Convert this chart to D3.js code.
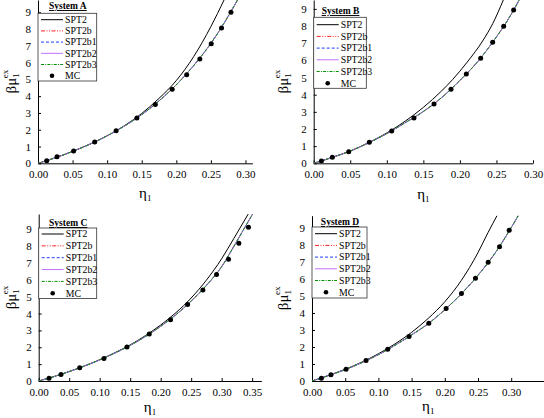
<!DOCTYPE html>
<html><head><meta charset="utf-8">
<script src="https://cdn.jsdelivr.net/npm/d3@7"></script>
<style>
html,body{margin:0;padding:0;background:#fff;}
svg{display:block;font-family:"Liberation Serif","Times New Roman",serif;}
</style></head>
<body>
<svg id="chart" width="544" height="418"></svg>
<script>
// ---------- data ----------
const seriesNames = ["SPT2","SPT2b","SPT2b1","SPT2b2","SPT2b3","MC"];
const systemNames = ["System A","System B","System C","System D"];
const xTickValues = [0,0.05,0.10,0.15,0.20,0.25,0.30,0.35];
const yTickValues = [0,1,2,3,4,5,6,7,8,9];

// System A
const mcA_x = [0.0126,0.0275,0.0515,0.082,0.113,0.143,0.1696,0.194,0.215,0.234,0.2505,0.2654,0.279];
const mcA_y = [0.15,0.39,0.73,1.27,1.94,2.70,3.51,4.41,5.28,6.22,7.13,8.06,9.0];
const spt2A_x = [0,0.025,0.05,0.075,0.1,0.125,0.15,0.175,0.2,0.225,0.25,0.269];
const spt2A_y = [0,0.33,0.71,1.14,1.64,2.24,2.97,3.87,4.93,6.35,8.15,9.73];
const spt2bA_x = [0,0.025,0.05,0.075,0.1,0.125,0.15,0.175,0.2,0.225,0.25,0.265,0.28,0.2895];
const spt2bA_y = [0,0.33,0.71,1.14,1.64,2.22,2.90,3.72,4.68,5.82,7.15,8.08,9.12,9.8];

// System B
const mcB_x = [0.0105,0.0255,0.0479,0.0761,0.1067,0.1372,0.1646,0.1878,0.2088,0.2284,0.2448,0.2599,0.2735];
const mcB_y = [0.14,0.35,0.68,1.22,1.89,2.64,3.46,4.32,5.21,6.12,7.06,7.99,8.94];
const spt2B_x = [0,0.025,0.05,0.075,0.1,0.125,0.15,0.175,0.19,0.21,0.232,0.245,0.2594];
const spt2B_y = [0,0.34,0.72,1.20,1.77,2.45,3.26,4.22,4.88,5.90,7.19,8.15,9.52];
const spt2bB_x = [0,0.025,0.05,0.075,0.1,0.125,0.15,0.175,0.2,0.225,0.25,0.265,0.2815];
const spt2bB_y = [0,0.34,0.71,1.19,1.73,2.36,3.02,3.83,4.83,5.96,7.37,8.32,9.55];

// System C
const mcC_x = [0.0169,0.0366,0.0672,0.107,0.1447,0.1813,0.2162,0.2441,0.2692,0.2916,0.3112,0.3282,0.344];
const mcC_y = [0.16,0.39,0.79,1.34,2.01,2.78,3.63,4.54,5.39,6.32,7.22,8.17,9.12];
const spt2C_x = [0,0.025,0.05,0.075,0.1,0.125,0.15,0.175,0.2,0.225,0.25,0.275,0.3,0.32,0.3436];
const spt2C_y = [0,0.26,0.56,0.89,1.26,1.68,2.14,2.69,3.32,4.05,4.92,5.98,7.25,8.45,9.9];
const spt2bC_x = [0,0.025,0.05,0.075,0.1,0.125,0.15,0.175,0.2,0.225,0.25,0.275,0.3,0.32,0.335,0.3508];
const spt2bC_y = [0,0.26,0.56,0.89,1.25,1.66,2.11,2.64,3.24,3.93,4.74,5.67,6.78,7.98,8.92,9.9];

// System D
const mcD_x = [0.0141,0.0286,0.0513,0.0814,0.114,0.1462,0.1759,0.202,0.2251,0.2462,0.2653,0.2824,0.297];
const mcD_y = [0.16,0.37,0.69,1.20,1.86,2.61,3.39,4.27,5.14,6.04,6.98,7.90,8.86];
const spt2D_x = [0,0.025,0.05,0.075,0.1,0.125,0.15,0.175,0.2,0.225,0.25,0.265,0.279];
const spt2D_y = [0,0.33,0.69,1.11,1.60,2.18,2.86,3.68,4.66,5.92,7.55,8.72,9.75];
const spt2bD_x = [0,0.025,0.05,0.075,0.1,0.125,0.15,0.175,0.2,0.225,0.25,0.275,0.3,0.311];
const spt2bD_y = [0,0.32,0.67,1.08,1.55,2.10,2.71,3.37,4.19,5.13,6.22,7.48,9.02,9.75];

const xMax = [0.31,0.30,0.365,0.35];
const yMax = [9.73,9.52,9.9,9.72];

// ---------- layout / styles ----------
const zip = (xs,ys)=>xs.map((x,i)=>[x,ys[i]]);
const panels = [
  {mc:zip(mcA_x,mcA_y), s2:zip(spt2A_x,spt2A_y), s2b:zip(spt2bA_x,spt2bA_y),
   left:38, right:252.4, top:0, bottom:163.3, ylabX:16, xlabY:198,
   lg:{top:13.3,bottom:81,right:96.7,row0:19.7,step:11.2,titleY:9}},
  {mc:zip(mcB_x,mcB_y), s2:zip(spt2B_x,spt2B_y), s2b:zip(spt2bB_x,spt2bB_y),
   left:313.7, right:533, top:0, bottom:163.3, ylabX:288, xlabY:199,
   lg:{top:17.3,bottom:88.3,right:366.3,row0:24.7,step:11.7,titleY:14}},
  {mc:zip(mcC_x,mcC_y), s2:zip(spt2C_x,spt2C_y), s2b:zip(spt2bC_x,spt2bC_y),
   left:38.7, right:261.3, top:214, bottom:381, ylabX:16, xlabY:412,
   lg:{top:228,bottom:298.5,right:96.7,row0:234,step:11.85,titleY:226}},
  {mc:zip(mcD_x,mcD_y), s2:zip(spt2D_x,spt2D_y), s2b:zip(spt2bD_x,spt2bD_y),
   left:312, right:544.4, top:215.7, bottom:381, ylabX:288, xlabY:411,
   lg:{top:227,bottom:298,right:367,row0:233.7,step:11.7,titleY:225}}
];

const styles = [
  {name:seriesNames[0], color:"#000000", dash:null, w:1},
  {name:seriesNames[1], color:"#ff2020", dash:"4,1.5,1,1.5,1,1.5", w:1},
  {name:seriesNames[2], color:"#1f3fff", dash:"3,2", w:1},
  {name:seriesNames[3], color:"#c070ff", dash:null, w:1},
  {name:seriesNames[4], color:"#009000", dash:"3,1.2,1,1.2", w:1}
];

const svg = d3.select("#chart");

panels.forEach((p,pi)=>{
  const x = d3.scaleLinear().domain([0,xMax[pi]]).range([p.left,p.right]);
  const y = d3.scaleLinear().domain([0,yMax[pi]]).range([p.bottom,p.top]);
  const g = svg.append("g");

  const clipId = "clip"+pi;
  svg.append("clipPath").attr("id",clipId).append("rect")
    .attr("x",p.left).attr("y",p.top).attr("width",p.right-p.left).attr("height",p.bottom-p.top);

  // axes
  const xt = xTickValues.filter(v=>v<=xMax[pi]+1e-9 && x(v)+11<=544);
  const xAxis = d3.axisBottom(x).tickValues(xt).tickFormat(d3.format(".2f")).tickSizeInner(-3).tickSizeOuter(0).tickPadding(7);
  const yAxis = d3.axisLeft(y).tickValues(yTickValues).tickFormat(d3.format("d")).tickSizeInner(-3).tickSizeOuter(0).tickPadding(7);
  const gx = g.append("g").attr("transform",`translate(0,${p.bottom})`).call(xAxis);
  const gy = g.append("g").attr("transform",`translate(${p.left},0)`).call(yAxis);
  [gx,gy].forEach(a=>{
    a.selectAll("path,line").attr("stroke","#000").attr("stroke-width",1);
    a.selectAll("text").attr("font-family","Liberation Serif, serif").attr("font-size",11).attr("fill","#000");
  });

  // curves
  const line = d3.line().x(d=>x(d[0])).y(d=>y(d[1])).curve(d3.curveMonotoneX);
  const cg = g.append("g").attr("clip-path",`url(#${clipId})`);
  styles.forEach((s,si)=>{
    const data = si===0 ? p.s2 : p.s2b;
    cg.append("path").datum(data).attr("d",line)
      .attr("fill","none").attr("stroke",s.color).attr("stroke-width",s.w)
      .attr("stroke-dasharray",s.dash);
  });
  cg.selectAll("circle.mc").data(p.mc).join("circle").attr("class","mc")
    .attr("cx",d=>x(d[0])).attr("cy",d=>y(d[1])).attr("r",2.5).attr("fill","#000");

  // legend
  const L = p.lg;
  g.append("rect").attr("x",p.left).attr("y",L.top).attr("width",L.right-p.left).attr("height",L.bottom-L.top)
    .attr("fill","#fff").attr("stroke","#333").attr("stroke-width",0.8);
  g.append("text").attr("x",(p.left+L.right)/2+0.5).attr("y",L.titleY).attr("text-anchor","middle")
    .attr("font-size",9.5).attr("font-weight","bold").attr("text-decoration","underline").text(systemNames[pi]);
  seriesNames.forEach((nm,i)=>{
    const ry = L.row0 + i*L.step;
    if(i<5){
      const s = styles[i];
      g.append("line").attr("x1",p.left+3).attr("x2",p.left+25).attr("y1",ry).attr("y2",ry)
        .attr("stroke",s.color).attr("stroke-width",1).attr("stroke-dasharray",s.dash);
    } else {
      g.append("circle").attr("cx",p.left+14).attr("cy",ry).attr("r",2.3).attr("fill","#000");
    }
    g.append("text").attr("x",p.left+27).attr("y",ry+3.3).attr("font-size",9.8).text(nm);
  });

  // axis titles
  const cy = (p.top+p.bottom)/2;
  const yl = g.append("text").attr("transform",`translate(${p.ylabX},${cy}) rotate(-90)`)
    .attr("text-anchor","middle").attr("font-size",15);
  yl.append("tspan").text("βμ");
  yl.append("tspan").attr("font-size",9).attr("dy",3).text("1");
  yl.append("tspan").attr("font-size",9).attr("dx",-5).attr("dy",-11).text("ex");

  const xl = g.append("text").attr("x",(p.left+p.right)/2).attr("y",p.xlabY)
    .attr("text-anchor","middle").attr("font-size",15);
  xl.append("tspan").text("η");
  xl.append("tspan").attr("font-size",9).attr("dy",3).text("1");
});
</script>
</body></html>
